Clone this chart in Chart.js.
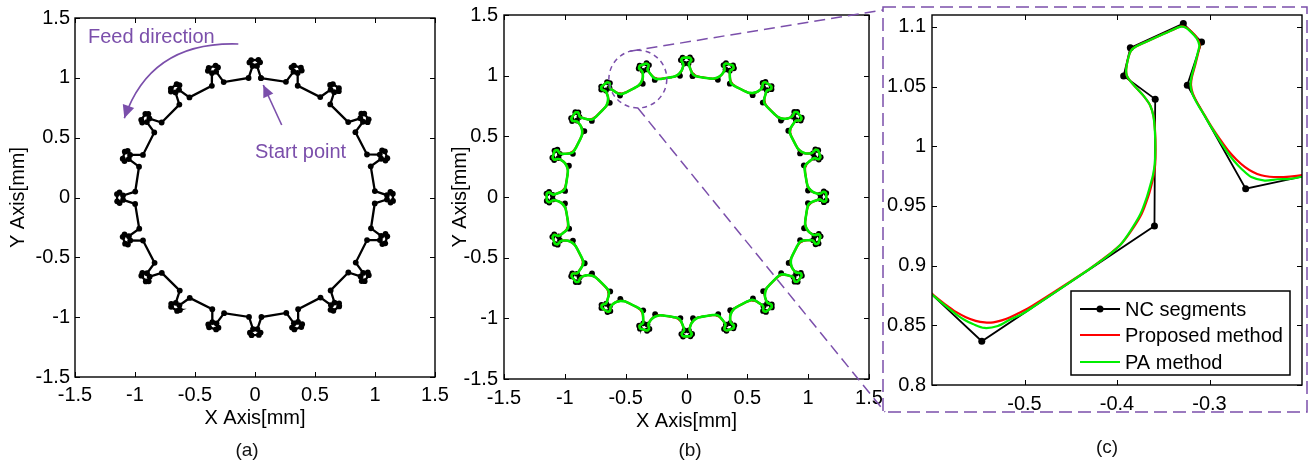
<!DOCTYPE html>
<html>
<head>
<meta charset="utf-8">
<script src="https://cdn.jsdelivr.net/npm/chart.js@4.4.1/dist/chart.umd.min.js"></script>
<style>
html,body{margin:0;padding:0;background:#fff;width:1310px;height:463px;overflow:hidden;position:relative;}
canvas{display:block;position:absolute;top:0;}
#ca{left:0;}
#cb{left:450px;}
#cc{left:880px;}
#ov{left:0;top:0;pointer-events:none;}
.cap{position:absolute;font:19px "Liberation Sans",Arial,sans-serif;color:#111;transform:translate(-50%,-50%);white-space:nowrap;}
</style>
</head>
<body>
<canvas id="ca" width="450" height="463"></canvas>
<canvas id="cb" width="440" height="463"></canvas>
<canvas id="cc" width="430" height="463"></canvas>
<canvas id="ov" width="1310" height="463"></canvas>
<div class="cap" style="left:247px;top:450px;">(a)</div>
<div class="cap" style="left:690px;top:450px;">(b)</div>
<div class="cap" style="left:1107px;top:447px;">(c)</div>
<script>
// ---------------- DATA ----------------
// centre angle (deg) of each of the 20 teeth, in feed (counter-clockwise) order, starting at the start point
const toothAnglesDeg = [90,108,126,144,162,180,198,216,234,252,270,288,306,324,342,360,378,396,414,432];
// tooth shapes were read in panel (c), i.e. in the frame of the tooth centred at 108 deg
const refToothDeg = 108;

// NC segment vertices of one tooth (mm)
const ncToothX = [-0.2609,-0.3240,-0.3086,-0.3283,-0.3856,-0.3928,-0.3587,-0.3595];
const ncToothY = [ 0.9645, 1.0512, 1.0873, 1.1028, 1.0825, 1.0589, 1.0395, 0.9333];

// PA method (green) over one tooth period
const paToothX = [-0.2000,-0.2130,-0.2261,-0.2404,-0.2548,-0.2656,-0.2730,-0.2800,-0.2890,-0.2979,
  -0.3060,-0.3130,-0.3185,-0.3205,-0.3195,-0.3160,-0.3125,-0.3110,-0.3140,-0.3210,
  -0.3260,-0.3310,-0.3400,-0.3600,-0.3790,-0.3850,-0.3878,-0.3900,-0.3895,-0.3860,
  -0.3780,-0.3700,-0.3640,-0.3606,-0.3590,-0.3586,-0.3592,-0.3612,-0.3638,-0.3677,
  -0.3748,-0.3856,-0.3963,-0.4080,-0.4200,-0.4300];
const paToothY = [0.9745,0.9727,0.9724,0.9713,0.9742,0.9812,0.9872,0.9942,1.0047,1.0158,
  1.0265,1.0355,1.0440,1.0510,1.0580,1.0680,1.0790,1.0845,1.0905,1.0965,
  1.0995,1.1003,1.0975,1.0905,1.0838,1.0800,1.0740,1.0650,1.0595,1.0550,
  1.0480,1.0410,1.0340,1.0250,1.0120,0.9980,0.9850,0.9756,0.9680,0.9575,
  0.9430,0.9290,0.9175,0.9095,0.9025,0.8970];

// Proposed method (red) over one tooth period
const prToothX = [-0.2000,-0.2130,-0.2261,-0.2350,-0.2441,-0.2530,-0.2619,-0.2710,-0.2799,-0.2890,
  -0.2979,-0.3060,-0.3128,-0.3180,-0.3200,-0.3190,-0.3155,-0.3120,-0.3105,-0.3135,
  -0.3205,-0.3258,-0.3310,-0.3400,-0.3600,-0.3790,-0.3850,-0.3878,-0.3900,-0.3895,
  -0.3860,-0.3780,-0.3700,-0.3640,-0.3604,-0.3588,-0.3583,-0.3587,-0.3603,-0.3626,
  -0.3663,-0.3733,-0.3843,-0.3953,-0.4075,-0.4200,-0.4300];
const prToothY = [0.9758,0.9746,0.9741,0.9745,0.9757,0.9785,0.9828,0.9890,0.9965,1.0062,
  1.0165,1.0270,1.0358,1.0442,1.0512,1.0580,1.0680,1.0790,1.0848,1.0907,
  1.0967,1.0997,1.1004,1.0975,1.0905,1.0838,1.0800,1.0740,1.0650,1.0595,
  1.0550,1.0480,1.0410,1.0340,1.0250,1.0120,0.9980,0.9850,0.9756,0.9680,
  0.9578,0.9435,0.9295,0.9183,0.9100,0.9027,0.8971];

// axis ticks
const xTicksAB = [-1.5,-1,-0.5,0,0.5,1,1.5];
const yTicksAB = [-1.5,-1,-0.5,0,0.5,1,1.5];
const xTicksC = [-0.5,-0.4,-0.3];
const yTicksC = [0.8,0.85,0.9,0.95,1,1.05,1.1];

const seriesNames = ['NC segments','Proposed method','PA method'];
const axisTitles = {x:'X Axis[mm]', y:'Y Axis[mm]'};
const notes = {feed:'Feed direction', start:'Start point'};

// ---------------- build full paths (tooth shape repeated round the circle) ----------------
function buildPath(tx, ty){
  const pts = [];
  toothAnglesDeg.forEach(a=>{
    const r = (a - refToothDeg) * Math.PI / 180, c = Math.cos(r), s = Math.sin(r);
    for (let i=0;i<tx.length;i++) pts.push({x: tx[i]*c - ty[i]*s, y: tx[i]*s + ty[i]*c});
  });
  pts.push({x:pts[0].x, y:pts[0].y});
  return pts;
}
const ncPath = buildPath(ncToothX, ncToothY);
const paPath = buildPath(paToothX, paToothY);
const prPath = buildPath(prToothX, prToothY);

// ---------------- styling ----------------
const FONT = '"Liberation Sans", Arial, Helvetica, sans-serif';
const PURPLE = '#7b4fab';
const GREEN = '#00ee00';
const RED = '#ff0000';
Chart.defaults.font.family = FONT;
Chart.defaults.color = '#000';

function makeScales(o){
  const sx = {
    type:'linear', min:o.xMin, max:o.xMax,
    grid:{display:false, drawTicks:false}, border:{display:false},
    ticks:{font:{size:20}, color:'#000', padding:o.xPad, maxRotation:0, minRotation:0, autoSkip:false, callback:v=>String(v)},
    afterBuildTicks:s=>{s.ticks = o.xTicks.map(v=>({value:v}));},
    afterFit:s=>{s.height = o.xH; s.paddingLeft = 0; s.paddingRight = 0;},
    title: o.titles ? {display:true, text:axisTitles.x, color:'#000', font:{size:20, lineHeight:1}, padding:{top:0, bottom:o.xTitlePad}} : {display:false}
  };
  const sy = {
    type:'linear', min:o.yMin, max:o.yMax,
    grid:{display:false, drawTicks:false}, border:{display:false},
    ticks:{font:{size:20}, color:'#000', padding:o.yPad, autoSkip:false, callback:v=>String(v)},
    afterBuildTicks:s=>{s.ticks = o.yTicks.map(v=>({value:v}));},
    afterFit:s=>{s.width = o.yW; s.paddingTop = 0; s.paddingBottom = 0;},
    title: o.titles ? {display:true, text:axisTitles.y, color:'#000', font:{size:20, lineHeight:1}, padding:{top:o.yTitlePad, bottom:0}} : {display:false}
  };
  return {x:sx, y:sy};
}

function boxPlugin(tickLen){
  return {
    id:'mbox',
    afterDatasetsDraw(chart){
      const {ctx, chartArea:a} = chart, x = chart.scales.x, y = chart.scales.y;
      ctx.save();
      ctx.strokeStyle = '#000'; ctx.lineWidth = 1; ctx.setLineDash([]);
      ctx.beginPath();
      x.ticks.forEach(t=>{
        const p = Math.round(x.getPixelForValue(t.value)) + 0.5;
        ctx.moveTo(p, a.bottom); ctx.lineTo(p, a.bottom - tickLen);
        ctx.moveTo(p, a.top); ctx.lineTo(p, a.top + tickLen);
      });
      y.ticks.forEach(t=>{
        const p = Math.round(y.getPixelForValue(t.value)) + 0.5;
        ctx.moveTo(a.left, p); ctx.lineTo(a.left + tickLen, p);
        ctx.moveTo(a.right, p); ctx.lineTo(a.right - tickLen, p);
      });
      ctx.stroke();
      ctx.lineWidth = 1.4;
      ctx.strokeRect(a.left, a.top, a.right - a.left, a.bottom - a.top);
      ctx.restore();
    }
  };
}

function arrowHead(ctx, tx, ty, fx, fy, len, hw){
  const dx = tx - fx, dy = ty - fy, d = Math.hypot(dx, dy), ux = dx/d, uy = dy/d;
  const bx = tx - ux*len, by = ty - uy*len;
  ctx.beginPath();
  ctx.moveTo(tx, ty);
  ctx.lineTo(bx - uy*hw, by + ux*hw);
  ctx.lineTo(bx + uy*hw, by - ux*hw);
  ctx.closePath();
  ctx.fill();
}

// annotation anchor points in panel (a), in data units (mm)
const feedArc = {x:[-0.139,-0.667,-0.958,-1.089], y:[1.283,1.300,1.049,0.662]};
const feedText = {x:-1.392, y:1.333};
const startArrow = {x:[0.2225,0.069], y:[0.606,0.940]};
const startText = {x:0.0, y:0.372};

const notesPlugin = {
  id:'notesA',
  afterDraw(chart){
    const ctx = chart.ctx, X = v=>chart.scales.x.getPixelForValue(v), Y = v=>chart.scales.y.getPixelForValue(v);
    ctx.save();
    ctx.strokeStyle = PURPLE; ctx.fillStyle = PURPLE; ctx.lineWidth = 1.6;
    const px = feedArc.x.map(X), py = feedArc.y.map(Y);
    ctx.beginPath();
    ctx.moveTo(px[0], py[0]);
    ctx.bezierCurveTo(px[1], py[1], px[2], py[2], px[3], py[3]);
    ctx.stroke();
    arrowHead(ctx, px[3], py[3], px[2], py[2], 13, 6);
    const sx = startArrow.x.map(X), sy = startArrow.y.map(Y);
    ctx.beginPath(); ctx.moveTo(sx[0], sy[0]); ctx.lineTo(sx[1], sy[1]); ctx.stroke();
    arrowHead(ctx, sx[1], sy[1], sx[0], sy[0], 12, 5.5);
    ctx.font = '20px ' + FONT; ctx.textAlign = 'left'; ctx.textBaseline = 'middle';
    ctx.fillText(notes.feed, X(feedText.x), Y(feedText.y));
    ctx.fillText(notes.start, X(startText.x), Y(startText.y));
    ctx.restore();
  }
};

const legendPlugin = {
  id:'legendC',
  afterDraw(chart){
    const ctx = chart.ctx, a = chart.chartArea;
    const w = 219, h = 84, x0 = a.right - 12 - w, y0 = a.bottom - 10 - h;
    ctx.save();
    ctx.fillStyle = '#fff'; ctx.fillRect(x0, y0, w, h);
    ctx.strokeStyle = '#000'; ctx.lineWidth = 1.5; ctx.strokeRect(x0, y0, w, h);
    const rows = [18, 44, 71], cols = ['#000', RED, GREEN], lws = [1.8, 2.2, 2.2];
    rows.forEach((r, i)=>{
      const yy = y0 + r;
      ctx.strokeStyle = cols[i]; ctx.lineWidth = lws[i];
      ctx.beginPath(); ctx.moveTo(x0 + 9, yy); ctx.lineTo(x0 + 49, yy); ctx.stroke();
      if (i === 0){ ctx.fillStyle = '#000'; ctx.beginPath(); ctx.arc(x0 + 29, yy, 3.5, 0, Math.PI*2); ctx.fill(); }
      ctx.fillStyle = '#000'; ctx.font = '20px ' + FONT; ctx.textAlign = 'left'; ctx.textBaseline = 'middle';
      ctx.fillText(seriesNames[i], x0 + 54, yy + 1);
    });
    ctx.restore();
  }
};

function ncSet(lw, pr){
  return {label:seriesNames[0], data:ncPath, showLine:true, borderColor:'#000', borderWidth:lw,
    pointRadius:pr, pointBackgroundColor:'#000', pointBorderWidth:0, pointHoverRadius:0, tension:0, order:3};
}
function curveSet(i, data, color, lw){
  return {label:seriesNames[i], data:data, showLine:true, borderColor:color, borderWidth:lw,
    pointRadius:0, pointHoverRadius:0, tension:0.3, capBezierPoints:false, order:i===1?2:1};
}
const common = {responsive:false, animation:false, events:[], plugins:{legend:{display:false}, tooltip:{enabled:false}}};

const chartA = new Chart(document.getElementById('ca'), {
  type:'scatter',
  data:{datasets:[ncSet(2.3, 2.9)]},
  options:Object.assign({}, common, {
    layout:{padding:{left:0, top:18, right:15, bottom:31}},
    scales:makeScales({xMin:-1.5, xMax:1.5, yMin:-1.5, yMax:1.5, xTicks:xTicksAB, yTicks:yTicksAB,
      xPad:6, yPad:5, xH:55, yW:75, titles:true, xTitlePad:4, yTitlePad:8})
  }),
  plugins:[boxPlugin(5), notesPlugin]
});

const chartB = new Chart(document.getElementById('cb'), {
  type:'scatter',
  data:{datasets:[curveSet(2, paPath, GREEN, 2.6), curveSet(1, prPath, RED, 2.2), ncSet(1.6, 2.9)]},
  options:Object.assign({}, common, {
    layout:{padding:{left:0, top:15, right:21, bottom:29}},
    scales:makeScales({xMin:-1.5, xMax:1.5, yMin:-1.5, yMax:1.5, xTicks:xTicksAB, yTicks:yTicksAB,
      xPad:7, yPad:6, xH:55, yW:54, titles:true, xTitlePad:3, yTitlePad:0})
  }),
  plugins:[boxPlugin(5)]
});

const chartC = new Chart(document.getElementById('cc'), {
  type:'scatter',
  data:{datasets:[curveSet(2, paPath, GREEN, 2.2), curveSet(1, prPath, RED, 2.2), ncSet(1.8, 3.5)]},
  options:Object.assign({}, common, {
    layout:{padding:{left:0, top:15, right:8, bottom:38}},
    scales:makeScales({xMin:-0.6, xMax:-0.2, yMin:0.8, yMax:1.11, xTicks:xTicksC, yTicks:yTicksC,
      xPad:7, yPad:6, xH:40, yW:52, titles:false})
  }),
  plugins:[boxPlugin(5), legendPlugin]
});

// ---------------- zoom annotation: circle in (b), dashed frame round (c) ----------------
const zoomCircle = {cx:-0.40, cy:0.972, r:0.238};
(function drawOverlay(){
  const ctx = document.getElementById('ov').getContext('2d');
  const offB = 450, offC = 880;
  const xs = chartB.scales.x, ys = chartB.scales.y;
  const cx = offB + xs.getPixelForValue(zoomCircle.cx), cy = ys.getPixelForValue(zoomCircle.cy);
  const rx = Math.abs(xs.getPixelForValue(zoomCircle.cx + zoomCircle.r) - xs.getPixelForValue(zoomCircle.cx));
  const ry = Math.abs(ys.getPixelForValue(zoomCircle.cy + zoomCircle.r) - ys.getPixelForValue(zoomCircle.cy));
  const ca = chartC.chartArea;
  const bx0 = offC + ca.left - 49, by0 = ca.top - 8, bx1 = offC + ca.right + 5, by1 = ca.bottom + 27;
  ctx.strokeStyle = PURPLE; ctx.lineWidth = 1.5;
  ctx.setLineDash([5,4]);
  ctx.beginPath(); ctx.ellipse(cx, cy, rx, ry, 0, 0, Math.PI*2); ctx.stroke();
  ctx.setLineDash([13,6]);
  ctx.strokeRect(bx0, by0, bx1 - bx0, by1 - by0);
  ctx.setLineDash([11,6]);
  ctx.beginPath();
  ctx.moveTo(cx - rx*0.28, cy - ry*0.96); ctx.lineTo(bx0, by0 + 3);
  ctx.moveTo(cx, cy + ry); ctx.lineTo(bx0 + 2, by1);
  ctx.stroke();
})();
</script>
</body>
</html>
